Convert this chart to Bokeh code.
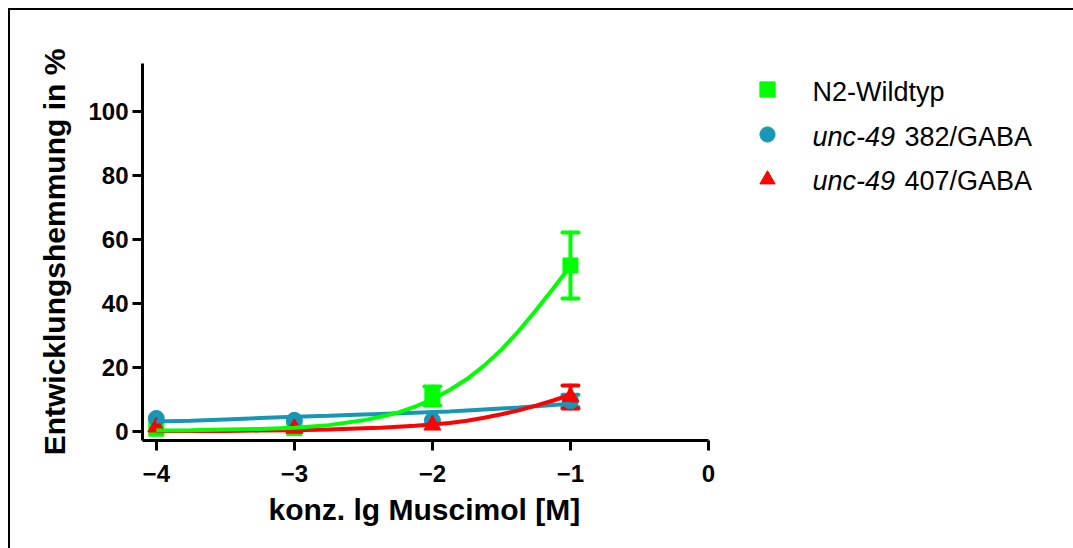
from bokeh.plotting import figure
from bokeh.models import (Range1d, Whisker, ColumnDataSource, Legend, LegendItem,
                          Label, FixedTicker, TeeHead, Title)
from bokeh.embed import file_html
from bokeh.resources import INLINE

# ---- data ----
conc = [-4, -3, -2, -1]
n2_mean = [0.8, 1.0, 11.0, 51.8]
n2_sem = [0.0, 0.0, 3.0, 10.3]
u382_mean = [4.0, 3.4, 3.4, 9.5]
u382_sem = [0.0, 0.0, 0.0, 1.9]
u407_mean = [1.3, 0.9, 1.9, 10.7]
u407_sem = [0.0, 0.0, 0.0, 3.6]

# fitted curves
fit_x = [-4.0, -3.75, -3.5, -3.25, -3.0, -2.75, -2.5, -2.375, -2.25, -2.125, -2.0,
         -1.875, -1.75, -1.625, -1.5, -1.375, -1.25, -1.125, -1.0]
n2_fit = [0.2, 0.3, 0.5, 0.7, 1.1, 1.9, 3.4, 4.5, 5.8, 7.7, 10.0,
          12.9, 16.3, 20.5, 25.5, 31.3, 37.8, 44.6, 51.6]
u382_fit = [3.0, 3.3, 3.7, 4.1, 4.5, 4.8, 5.2, 5.4, 5.6, 5.8, 6.0,
            6.2, 6.5, 6.8, 7.1, 7.4, 7.8, 8.2, 8.6]
u407_fit = [0.0, 0.1, 0.1, 0.2, 0.3, 0.5, 0.9, 1.1, 1.4, 1.7, 2.1,
            2.6, 3.3, 4.2, 5.3, 6.5, 8.0, 9.6, 11.4]

x_ticks = [-4, -3, -2, -1, 0]
y_ticks = [0, 20, 40, 60, 80, 100]

x_title = "konz. lg Muscimol [M]"
y_title = "Entwicklungshemmung in %"
series_names = ["N2-Wildtyp", "382/GABA", "407/GABA"]
italic_prefix = "unc-49"

GREEN = "#00FF00"
BLUE = "#1797B5"
RED = "#FF0000"
FONT = "Liberation Sans"

W, H = 1073, 548
FL, FT, FB = 142, 63, 440
PX_PER_X = 138.05

p = figure(width=W, height=H, output_backend="svg", toolbar_location=None,
           x_range=Range1d(-4.1, -4.1 + (W - FL) / PX_PER_X), y_range=Range1d(-2.9, 114.9),
           min_border_left=FL, min_border_right=0,
           min_border_top=FT, min_border_bottom=H - FB)
p.outline_line_color = None
p.xgrid.visible = False
p.ygrid.visible = False
p.background_fill_color = "white"
p.border_fill_alpha = 0
p.styles = {
    "background-color": "white",
    "background-image": "linear-gradient(black, black), linear-gradient(black, black)",
    "background-size": "2px 100%, 100% 2px",
    "background-position": "8px 8px, 8px 8px",
    "background-repeat": "no-repeat",
}

for ax in (p.xaxis[0], p.yaxis[0]):
    ax.axis_line_width = 3
    ax.major_tick_line_width = 3
    ax.major_tick_out = 10
    ax.major_tick_in = 0
    ax.minor_tick_line_color = None
    ax.major_label_text_font = FONT
    ax.major_label_text_font_style = "bold"
    ax.major_label_text_font_size = "24px"
    ax.axis_label_text_font = FONT
    ax.axis_label_text_font_style = "bold"
    ax.axis_label_text_font_size = "30px"
    ax.axis_label_text_color = "black"
    ax.major_label_text_color = "black"

p.xaxis.bounds = (-4.1, 0)
p.xaxis.ticker = FixedTicker(ticks=x_ticks)
p.yaxis.ticker = FixedTicker(ticks=y_ticks)
p.yaxis.axis_label = y_title
p.xaxis.major_label_standoff = 14
p.yaxis.major_label_standoff = 4
p.yaxis.axis_label_standoff = 14

# x-axis title centred under the bounded axis
p.add_layout(Title(text=x_title, align="left", offset=126, standoff=12,
                   text_font=FONT, text_font_style="bold", text_font_size="30px",
                   text_color="black"), "below")

# error bars
def add_err(mean, sem, color):
    xs = [c for c, s in zip(conc, sem) if s > 0]
    up = [m + s for m, s in zip(mean, sem) if s > 0]
    lo = [m - s for m, s in zip(mean, sem) if s > 0]
    src = ColumnDataSource(dict(x=xs, upper=up, lower=lo))
    w = Whisker(base="x", upper="upper", lower="lower", source=src,
                line_color=color, line_width=4, line_cap="round",
                upper_head=TeeHead(size=16, line_color=color, line_width=4, line_cap="round"),
                lower_head=TeeHead(size=16, line_color=color, line_width=4, line_cap="round"))
    p.add_layout(w)

add_err(u382_mean, u382_sem, BLUE)
add_err(u407_mean, u407_sem, RED)
add_err(n2_mean, n2_sem, GREEN)

# markers
r_n2 = p.scatter(conc, n2_mean, marker="square", size=15, color=GREEN)
r_382 = p.scatter(conc, u382_mean, marker="circle", size=16, color=BLUE)
r_407 = p.scatter(conc, u407_mean, marker="triangle", size=17, color=RED)

# fitted curves
p.line(fit_x, u382_fit, line_color=BLUE, line_width=4)
p.line(fit_x, u407_fit, line_color=RED, line_width=4)
p.line(fit_x, n2_fit, line_color=GREEN, line_width=4)

# legend (markers via Legend, texts via Labels for mixed italic)
leg = Legend(items=[LegendItem(label=" ", renderers=[r_n2]),
                    LegendItem(label=" ", renderers=[r_382]),
                    LegendItem(label=" ", renderers=[r_407])],
             location=(606, 242), padding=0, margin=0, spacing=7,
             glyph_width=38, glyph_height=38, label_width=1,
             border_line_color=None, background_fill_alpha=0)
p.add_layout(leg)

LX = 812 - FL
rows_y = [FB - 91, FB - 136, FB - 180]
fs = "27px"
p.add_layout(Label(x=LX, y=rows_y[0], x_units="screen", y_units="screen", text=series_names[0],
                   text_font=FONT, text_font_size=fs, text_baseline="middle", text_color="black"))
for yy, nm in zip(rows_y[1:], series_names[1:]):
    p.add_layout(Label(x=LX, y=yy, x_units="screen", y_units="screen", text=italic_prefix,
                       text_font=FONT, text_font_size=fs, text_font_style="italic",
                       text_baseline="middle", text_color="black"))
    p.add_layout(Label(x=LX + 92, y=yy, x_units="screen", y_units="screen", text=nm,
                       text_font=FONT, text_font_size=fs, text_baseline="middle", text_color="black"))

open("out.html", "w").write(file_html(p, INLINE))
